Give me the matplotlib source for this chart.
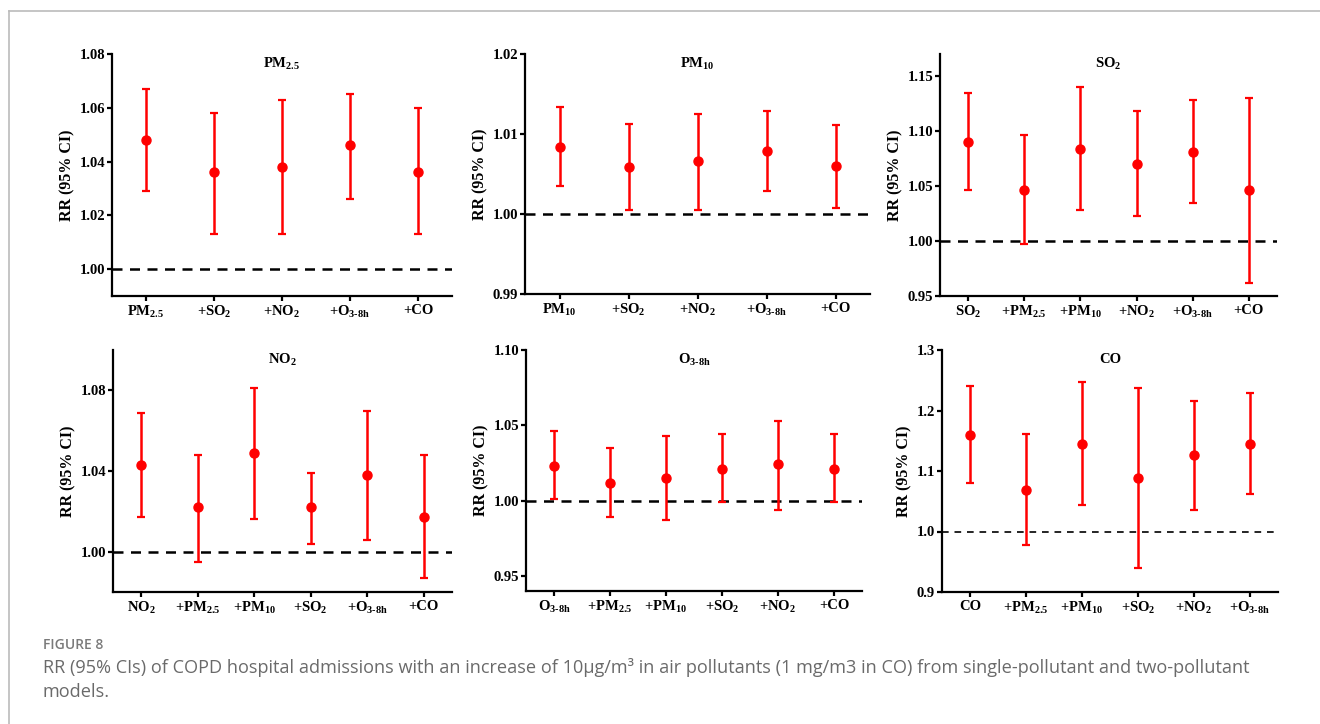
import numpy as np
import matplotlib
matplotlib.use("Agg")
import matplotlib.pyplot as plt
from matplotlib.lines import Line2D

plt.rcParams['font.family'] = 'Liberation Serif'
plt.rcParams['font.weight'] = 'bold'
plt.rcParams['mathtext.fontset'] = 'custom'
plt.rcParams['mathtext.rm'] = 'Liberation Serif:bold'
plt.rcParams['mathtext.it'] = 'Liberation Serif:bold'
plt.rcParams['mathtext.bf'] = 'Liberation Serif:bold'

# Labels
PM25 = r'PM$_{2.5}$'
PM10 = r'PM$_{10}$'
SO2 = r'SO$_{2}$'
NO2 = r'NO$_{2}$'
O3 = r'O$_{3\text{-}8h}$'
CO = 'CO'

# Panel 1: PM2.5
pm25_labels = [PM25, '+' + SO2, '+' + NO2, '+' + O3, '+CO']
pm25_rr = [1.048, 1.036, 1.038, 1.046, 1.036]
pm25_lo = [1.029, 1.013, 1.013, 1.026, 1.013]
pm25_hi = [1.067, 1.058, 1.063, 1.065, 1.060]

# Panel 2: PM10
pm10_labels = [PM10, '+' + SO2, '+' + NO2, '+' + O3, '+CO']
pm10_rr = [1.0084, 1.0059, 1.0066, 1.0079, 1.0060]
pm10_lo = [1.0035, 1.0005, 1.0005, 1.0029, 1.0008]
pm10_hi = [1.0134, 1.0112, 1.0125, 1.0129, 1.0111]

# Panel 3: SO2
so2_labels = [SO2, '+' + PM25, '+' + PM10, '+' + NO2, '+' + O3, '+CO']
so2_rr = [1.090, 1.046, 1.084, 1.070, 1.081, 1.046]
so2_lo = [1.046, 0.997, 1.028, 1.023, 1.035, 0.962]
so2_hi = [1.135, 1.096, 1.140, 1.118, 1.128, 1.130]

# Panel 4: NO2
no2_labels = [NO2, '+' + PM25, '+' + PM10, '+' + SO2, '+' + O3, '+CO']
no2_rr = [1.043, 1.022, 1.049, 1.022, 1.038, 1.017]
no2_lo = [1.017, 0.995, 1.016, 1.004, 1.006, 0.987]
no2_hi = [1.069, 1.048, 1.081, 1.039, 1.070, 1.048]

# Panel 5: O3-8h
o3_labels = [O3, '+' + PM25, '+' + PM10, '+' + SO2, '+' + NO2, '+CO']
o3_rr = [1.023, 1.012, 1.015, 1.021, 1.024, 1.021]
o3_lo = [1.001, 0.989, 0.987, 0.999, 0.994, 0.999]
o3_hi = [1.046, 1.035, 1.043, 1.044, 1.053, 1.044]

# Panel 6: CO
co_labels = [CO, '+' + PM25, '+' + PM10, '+' + SO2, '+' + NO2, '+' + O3]
co_rr = [1.160, 1.069, 1.145, 1.089, 1.126, 1.145]
co_lo = [1.080, 0.977, 1.043, 0.940, 1.036, 1.062]
co_hi = [1.241, 1.161, 1.247, 1.238, 1.216, 1.229]

panels = [
    (PM25, pm25_labels, pm25_rr, pm25_lo, pm25_hi, (0.99, 1.08), [1.00, 1.02, 1.04, 1.06, 1.08], '%.2f'),
    (PM10, pm10_labels, pm10_rr, pm10_lo, pm10_hi, (0.99, 1.02), [0.99, 1.00, 1.01, 1.02], '%.2f'),
    (SO2, so2_labels, so2_rr, so2_lo, so2_hi, (0.95, 1.17), [0.95, 1.00, 1.05, 1.10, 1.15], '%.2f'),
    (NO2, no2_labels, no2_rr, no2_lo, no2_hi, (0.98, 1.10), [1.00, 1.04, 1.08], '%.2f'),
    (O3, o3_labels, o3_rr, o3_lo, o3_hi, (0.94, 1.10), [0.95, 1.00, 1.05, 1.10], '%.2f'),
    (CO, co_labels, co_rr, co_lo, co_hi, (0.90, 1.30), [0.9, 1.0, 1.1, 1.2, 1.3], '%.1f'),
]

# axes boxes in pixels: left, right, top, bottom
boxes = [
    (112, 452, 54, 296), (525, 870, 54, 294), (940, 1277, 54, 296),
    (113, 452, 350, 592), (526, 862, 350, 591), (942, 1278, 350, 592),
]

W, H = 1320, 724
fig = plt.figure(figsize=(W / 100, H / 100), dpi=100)

for i, (name, labels, rr, lo, hi, ylim, yticks, fmt) in enumerate(panels):
    l, r, t, b = boxes[i]
    ax = fig.add_axes([l / W, 1 - b / H, (r - l) / W, (b - t) / H])
    x = np.arange(len(labels))
    rr = np.array(rr)
    err = [rr - np.array(lo), np.array(hi) - rr]
    if i == 5:
        ax.axhline(1.0, color='black', lw=1.2, dashes=(4, 3.5), zorder=1)
    else:
        ax.axhline(1.0, color='black', lw=1.8, dashes=(4, 3), zorder=1)
    ax.errorbar(x, rr, yerr=err, fmt='o', color='#ff0000', ms=6.5,
                elinewidth=1.8, capsize=2.8, capthick=1.6, zorder=3)
    ax.set_xlim(-0.5, len(labels) - 0.5)
    ax.set_ylim(*ylim)
    ax.set_yticks(yticks)
    ax.set_yticklabels([fmt % v for v in yticks])
    ax.set_xticks(x)
    ax.set_xticklabels(labels)
    ax.spines['top'].set_visible(False)
    ax.spines['right'].set_visible(False)
    for s in ['left', 'bottom']:
        ax.spines[s].set_linewidth(1.6)
    ax.tick_params(axis='both', width=1.6, length=3.5, labelsize=10.5, direction='out')
    ax.tick_params(axis='y', pad=1.5)
    ax.tick_params(axis='x', pad=2.5)
    ax.set_ylabel('RR (95% CI)', fontsize=11.5, fontweight='bold', labelpad=3)
    ax.text(0.5, 0.96, name, transform=ax.transAxes, ha='center', va='center',
            fontsize=10.5, fontweight='bold')

# outer frame lines
fig.add_artist(Line2D([9 / W, 1], [1 - 11 / H, 1 - 11 / H], color='#bbbbbb', lw=1.2))
fig.add_artist(Line2D([9 / W, 9 / W], [0, 1 - 11 / H], color='#bbbbbb', lw=1.2))

# caption
fig.text(43 / W, 1 - 649 / H, 'FIGURE 8', fontsize=10, color='#7a7a7a',
         family='Open Sans', fontweight='semibold', va='baseline')
fig.text(43 / W, 1 - 673 / H,
         'RR (95% CIs) of COPD hospital admissions with an increase of 10\u03bcg/m\u00b3 in air pollutants '
         '(1 mg/m3 in CO) from single-pollutant and two-pollutant',
         fontsize=13.1, color='#6a6a6a', family='Open Sans', fontweight='normal', va='baseline')
fig.text(43 / W, 1 - 697 / H, 'models.', fontsize=13.1, color='#6a6a6a',
         family='Open Sans', fontweight='normal', va='baseline')

fig.savefig('out.png', dpi=100)
